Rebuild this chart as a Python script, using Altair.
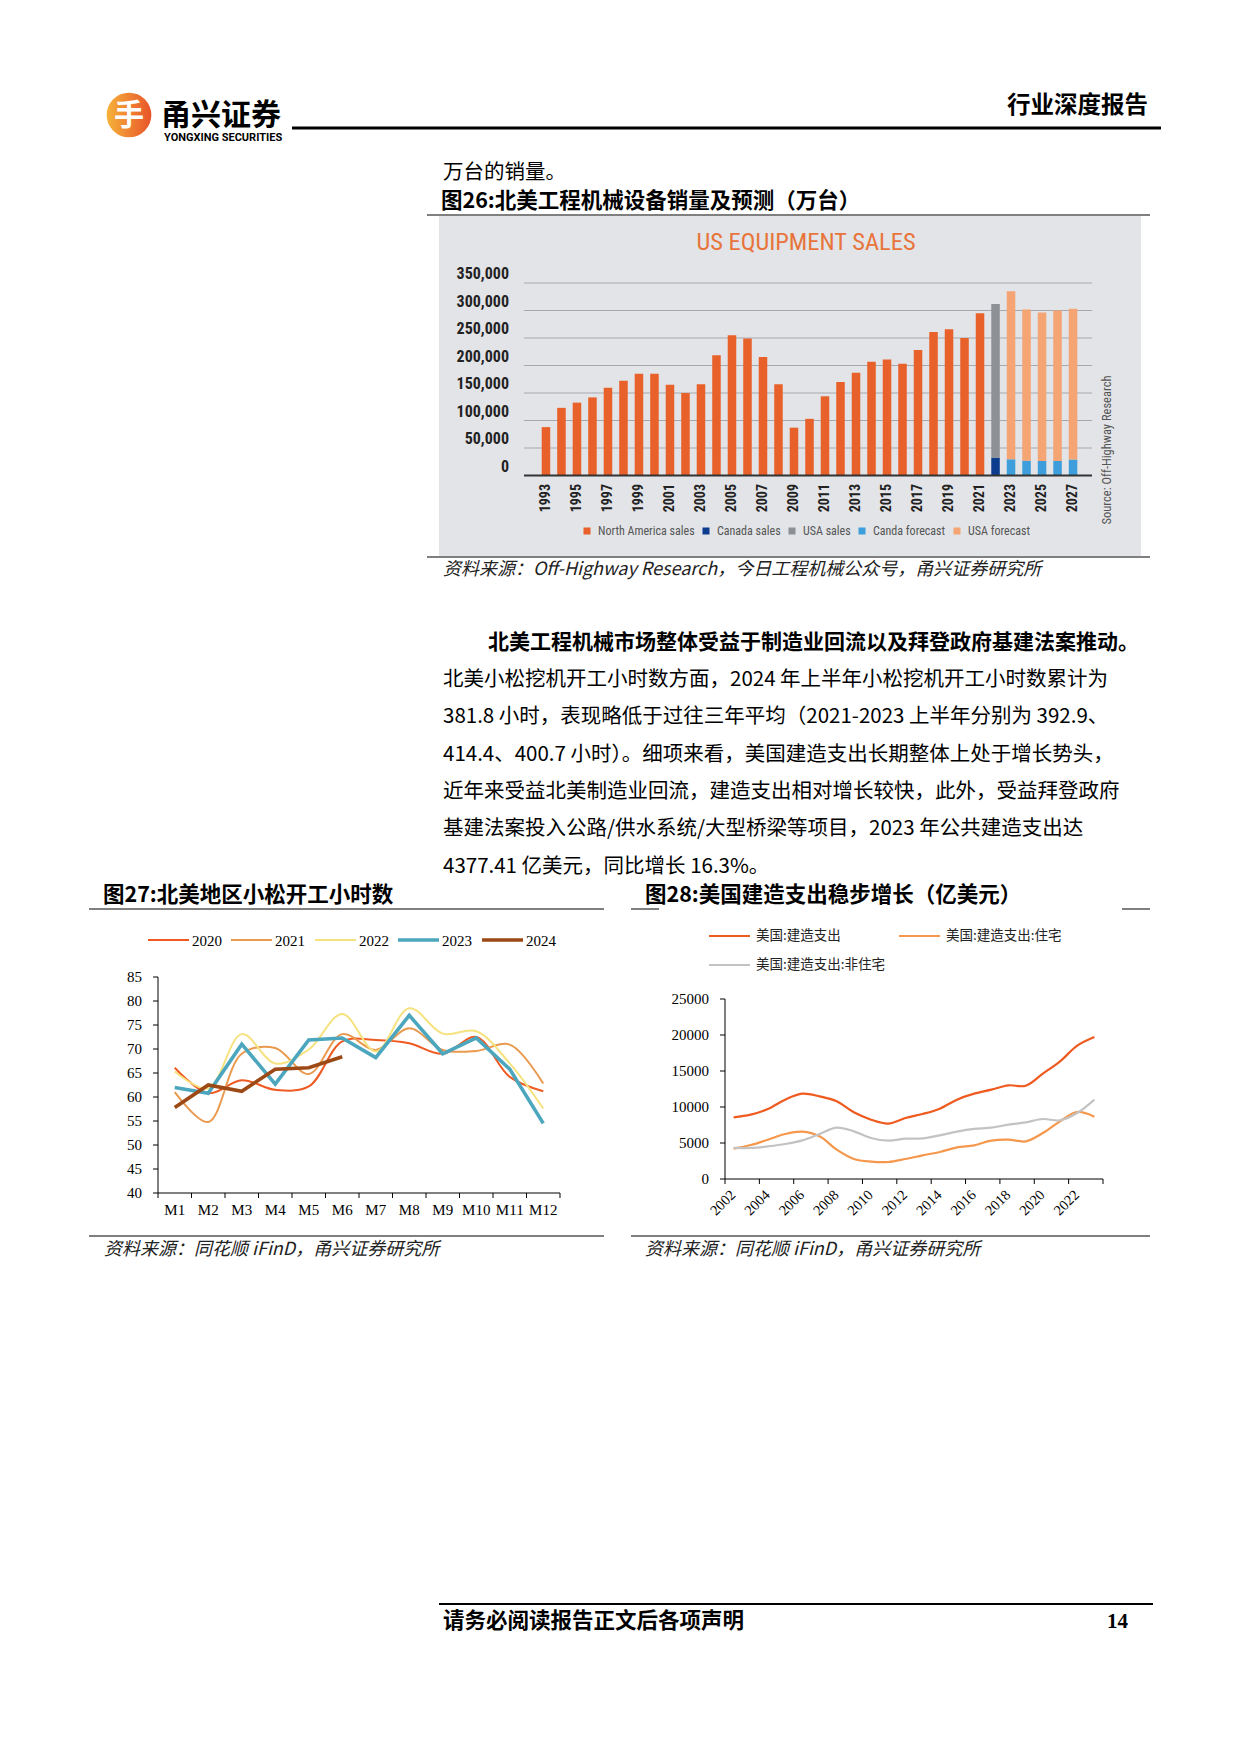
import altair as alt
import pandas as pd

OX, OY = 8, 8
def X(v): return v - OX
def Y(v): return v - OY
W, H = 1224, 1738

CJK = "Noto Sans CJK SC"
SERIF = "Liberation Serif"
NARROW = "Roboto Condensed, Roboto, sans-serif"

# ---------------- Figure 26 data ----------------
years26 = list(range(1993, 2028))
na_years = list(range(1993, 2022))
na_sales = [88000, 123000, 132500, 142000, 159500, 172500, 185000, 185000, 165000, 150000,
            166000, 218500, 255000, 249000, 215500, 166000, 87000, 103000, 144000, 170000,
            187000, 207000, 211000, 203000, 228000, 261000, 266000, 250000, 295000]
actual_years = [2022]
canada_sales = [32500]
usa_sales = [279500]
fc_years = [2023, 2024, 2025, 2026, 2027]
canada_fc = [29500, 27000, 26500, 26500, 29000]
usa_fc = [305500, 275000, 270000, 273500, 274000]
series26 = ["North America sales", "Canada sales", "USA sales", "Canda forecast", "USA forecast"]
colors26 = ["#e9612a", "#0c3c8e", "#8d9095", "#3d9edb", "#f5a474"]
ticks26 = [0, 50000, 100000, 150000, 200000, 250000, 300000, 350000]
labels26 = years26[::2]

# ---------------- Figure 27 data ----------------
months = ["M1", "M2", "M3", "M4", "M5", "M6", "M7", "M8", "M9", "M10", "M11", "M12"]
month_idx = [1, 2, 3, 4, 5, 6, 7, 8, 9, 10, 11, 12]
series27 = ["2020", "2021", "2022", "2023", "2024"]
h2020 = [66.1, 60.8, 63.5, 61.5, 62.2, 71.6, 71.9, 71.2, 69.0, 72.5, 64.2, 61.2]
h2021 = [61.0, 54.8, 69.0, 70.2, 64.8, 73.1, 69.8, 74.3, 69.8, 69.6, 70.9, 62.8]
h2022 = [65.3, 61.8, 73.1, 67.0, 69.9, 77.3, 69.5, 78.5, 73.2, 73.7, 67.0, 57.6]
h2023 = [62.0, 60.8, 71.0, 62.7, 71.9, 72.3, 68.2, 77.0, 69.0, 72.3, 65.8, 54.5]
h2024 = [57.8, 62.5, 61.2, 65.8, 66.1, 68.4]
colors27 = ["#ef5a22", "#ea9a4f", "#f6e27e", "#4ba6be", "#9c4915"]
widths27 = [2, 2, 2, 3.6, 3.6]
smooth27 = [True, True, True, False, False]
ticks27 = [40, 45, 50, 55, 60, 65, 70, 75, 80, 85]

# ---------------- Figure 28 data ----------------
years28 = list(range(2002, 2024))
total28 = [8570, 8940, 9720, 11020, 11850, 11480, 10790, 9260, 8240, 7690, 8470,
           9030, 9770, 11020, 11850, 12410, 13010, 12950, 14630, 16340, 18520, 19720]
res28 = [4210, 4720, 5460, 6250, 6570, 5930, 4070, 2780, 2410, 2360, 2780,
         3290, 3750, 4400, 4680, 5330, 5460, 5230, 6390, 8010, 9310, 8660]
nonres28 = [4310, 4310, 4540, 4860, 5370, 6250, 7130, 6620, 5700, 5330, 5600,
            5650, 6070, 6580, 6950, 7130, 7550, 7870, 8330, 8150, 9170, 11020]
series28 = ["美国:建造支出", "美国:建造支出:住宅", "美国:建造支出:非住宅"]
colors28 = ["#ef5a1f", "#f5984d", "#c3c3c3"]
ticks28 = [0, 5000, 10000, 15000, 20000, 25000]
labels28 = years28[::2]

para_bold = "北美工程机械市场整体受益于制造业回流以及拜登政府基建法案推动。"
para_lines = [
    "北美小松挖机开工小时数方面，2024 年上半年小松挖机开工小时数累计为",
    "381.8 小时，表现略低于过往三年平均（2021-2023 上半年分别为 392.9、",
    "414.4、400.7 小时）。细项来看，美国建造支出长期整体上处于增长势头，",
    "近年来受益北美制造业回流，建造支出相对增长较快，此外，受益拜登政府",
    "基建法案投入公路/供水系统/大型桥梁等项目，2023 年公共建造支出达",
    "4377.41 亿美元，同比增长 16.3%。",
]

layers = []
ONE = pd.DataFrame({"t": [""]})

def txt(s, x, y, size, weight="normal", align="left", font=CJK, color="#000000",
        style="normal", angle=0, baseline="middle"):
    return alt.Chart(pd.DataFrame({"t": [s]})).mark_text(
        align=align, baseline=baseline, font=font, fontSize=size, fontWeight=weight,
        fontStyle=style, color=color, angle=angle
    ).encode(x=alt.value(X(x)), y=alt.value(Y(y)), text=alt.Text("t:N"))

def hline(x1, x2, y, color="#000000", w=1):
    return alt.Chart(ONE).mark_rule(color=color, strokeWidth=w).encode(
        x=alt.value(X(x1)), x2=alt.value(X(x2)), y=alt.value(Y(y)))

def vline(x, y1, y2, color="#000000", w=1):
    return alt.Chart(ONE).mark_rule(color=color, strokeWidth=w).encode(
        x=alt.value(X(x)), y=alt.value(Y(y1)), y2=alt.value(Y(y2)))

# ---------------- header ----------------
grad = alt.LinearGradient(gradient="linear", x1=0, x2=1, y1=0, y2=0,
                          stops=[alt.GradientStop(color="#f6b23a", offset=0),
                                 alt.GradientStop(color="#e8542a", offset=1)])
layers.append(alt.Chart(ONE).mark_point(filled=True, shape="circle", size=2000, fill=grad,
                                        opacity=1, strokeWidth=0)
              .encode(x=alt.value(X(129)), y=alt.value(Y(115))))
layers.append(txt("手", 129, 116, 30, weight="bold", align="center", color="#ffffff"))
layers.append(txt("甬兴证券", 161, 116, 30, weight="bold"))
layers.append(txt("YONGXING SECURITIES", 164, 138, 11, weight="bold", font="Roboto"))
layers.append(hline(292, 1161, 128, w=3))
layers.append(txt("行业深度报告", 1148, 106, 23.5, weight="bold", align="right"))

# ---------------- top text & fig 26 ----------------
layers.append(txt("万台的销量。", 443, 173, 20.5))
layers.append(txt("图26:北美工程机械设备销量及预测（万台）", 441, 202, 21.5, weight="bold"))
layers.append(hline(427, 1150, 215))
layers.append(alt.Chart(ONE).mark_rect(color="#e2e4e7").encode(
    x=alt.value(X(439)), x2=alt.value(X(1141)), y=alt.value(Y(216)), y2=alt.value(Y(556))))
layers.append(hline(427, 1150, 557))

xs26 = alt.Scale(type="band", domain=years26, range=[X(531), X(1088)],
                 paddingInner=0.45, paddingOuter=0.69)
ys26 = alt.Scale(domain=[0, 350000], range=[Y(475.5), Y(283)], nice=False)

layers.append(alt.Chart(pd.DataFrame({"v": ticks26[1:]})).mark_rule(color="#a5a8ad", strokeWidth=1)
              .encode(y=alt.Y("v:Q", scale=ys26, axis=None), x=alt.value(X(524)), x2=alt.value(X(1092))))

rows = []
for yy, v in zip(na_years, na_sales):
    rows.append({"year": yy, "series": series26[0], "value": v, "ord": 0})
for yy, v in zip(actual_years, canada_sales):
    rows.append({"year": yy, "series": series26[1], "value": v, "ord": 0})
for yy, v in zip(actual_years, usa_sales):
    rows.append({"year": yy, "series": series26[2], "value": v, "ord": 1})
for yy, v in zip(fc_years, canada_fc):
    rows.append({"year": yy, "series": series26[3], "value": v, "ord": 0})
for yy, v in zip(fc_years, usa_fc):
    rows.append({"year": yy, "series": series26[4], "value": v, "ord": 1})
df26 = pd.DataFrame(rows)

layers.append(alt.Chart(df26).mark_bar().encode(
    x=alt.X("year:O", scale=xs26, axis=None),
    y=alt.Y("value:Q", scale=ys26, axis=None, stack="zero"),
    color=alt.Color("series:N", scale=alt.Scale(domain=series26, range=colors26),
                    legend=alt.Legend(orient="none", legendX=X(581), legendY=Y(525),
                                      direction="horizontal", title=None, symbolType="square",
                                      symbolSize=49, symbolStrokeWidth=0, labelFont=NARROW,
                                      labelFontSize=12, labelColor="#555555", labelOffset=5,
                                      columnPadding=5, padding=0)),
    order=alt.Order("ord:Q"),
))
layers.append(alt.Chart(pd.DataFrame({"v": ticks26[:1]})).mark_rule(color="#333333", strokeWidth=2)
              .encode(y=alt.Y("v:Q", scale=ys26, axis=None), x=alt.value(X(524)), x2=alt.value(X(1092))))
layers.append(alt.Chart(pd.DataFrame({"v": ticks26})).mark_text(
    align="right", baseline="middle", font=NARROW, fontSize=16, fontWeight="bold", color="#222222",
    dy=-9)
    .encode(y=alt.Y("v:Q", scale=ys26, axis=None), x=alt.value(X(509)),
            text=alt.Text("v:Q", format=",")))
layers.append(alt.Chart(pd.DataFrame({"year": labels26})).mark_text(
    angle=270, align="right", baseline="middle", font=NARROW, fontSize=14, fontWeight="bold",
    color="#222222")
    .encode(x=alt.X("year:O", scale=xs26, axis=None), y=alt.value(Y(484)), text=alt.Text("year:O")))
layers.append(txt("US EQUIPMENT SALES", 806, 243, 24.5, align="center", font=NARROW, color="#e8743b"))
layers.append(txt("Source: Off-Highway Research", 1107, 450, 12.5, align="center", font=NARROW,
                  color="#555555", angle=270))

layers.append(txt("资料来源：Off-Highway Research，今日工程机械公众号，甬兴证券研究所", 443, 570, 18,
                  style="italic", color="#222222"))

# ---------------- paragraph ----------------
layers.append(txt(para_bold, 488, 643, 21, weight="bold"))
for i, line in enumerate(para_lines):
    layers.append(txt(line, 443, 680 + i * 37.3, 20.5))

# ---------------- figure titles ----------------
layers.append(txt("图27:北美地区小松开工小时数", 103, 896, 21.5, weight="bold"))
layers.append(hline(89, 604, 909))
layers.append(txt("图28:美国建造支出稳步增长（亿美元）", 645, 896, 21.5, weight="bold"))
layers.append(hline(631, 659, 909))
layers.append(hline(1122, 1150, 909))

# ---------------- figure 27 ----------------
xs27 = alt.Scale(domain=[0.5, 12.5], range=[X(158), X(560)], nice=False, zero=False)
ys27 = alt.Scale(domain=[40, 85], range=[Y(1193), Y(977)], nice=False, zero=False)
vals27 = [h2020, h2021, h2022, h2023, h2024]
for name, vals, c, w, sm in zip(series27, vals27, colors27, widths27, smooth27):
    d = pd.DataFrame({"m": month_idx[:len(vals)], "v": vals})
    layers.append(alt.Chart(d).mark_line(color=c, strokeWidth=w,
                                         interpolate="catmull-rom" if sm else "linear")
                  .encode(x=alt.X("m:Q", scale=xs27, axis=None), y=alt.Y("v:Q", scale=ys27, axis=None)))
layers.append(vline(158, 977, 1193))
layers.append(hline(158, 560, 1193))
layers.append(alt.Chart(pd.DataFrame({"v": ticks27})).mark_rule(color="#000000", strokeWidth=1)
              .encode(y=alt.Y("v:Q", scale=ys27, axis=None), x=alt.value(X(153)), x2=alt.value(X(158))))
layers.append(alt.Chart(pd.DataFrame({"v": ticks27})).mark_text(
    align="right", baseline="middle", font=SERIF, fontSize=15, color="#000000")
    .encode(y=alt.Y("v:Q", scale=ys27, axis=None), x=alt.value(X(142)), text=alt.Text("v:Q")))
bounds27 = [m - 0.5 for m in month_idx] + [month_idx[-1] + 0.5]
layers.append(alt.Chart(pd.DataFrame({"b": bounds27})).mark_rule(color="#000000", strokeWidth=1)
              .encode(x=alt.X("b:Q", scale=xs27, axis=None), y=alt.value(Y(1193)), y2=alt.value(Y(1198))))
layers.append(alt.Chart(pd.DataFrame({"m": month_idx, "lab": months})).mark_text(
    align="center", baseline="middle", font=SERIF, fontSize=15, color="#000000")
    .encode(x=alt.X("m:Q", scale=xs27, axis=None), y=alt.value(Y(1210)), text=alt.Text("lab:N")))
leg27_x = [148, 231, 315, 398, 482]
for name, c, w, lx in zip(series27, colors27, widths27, leg27_x):
    layers.append(hline(lx, lx + 41, 940, color=c, w=w))
    layers.append(txt(name, lx + 44, 941, 15, font=SERIF))
layers.append(hline(89, 604, 1236))
layers.append(txt("资料来源：同花顺 iFinD，甬兴证券研究所", 104, 1250, 18, style="italic", color="#222222"))

# ---------------- figure 28 ----------------
xs28 = alt.Scale(domain=[years28[0] - 0.5, years28[-1] + 0.5], range=[X(725), X(1103)], nice=False, zero=False)
ys28 = alt.Scale(domain=[0, 25000], range=[Y(1179), Y(999)], nice=False)
for name, vals, c in zip(series28, [total28, res28, nonres28], colors28):
    d = pd.DataFrame({"yr": years28, "v": vals})
    layers.append(alt.Chart(d).mark_line(color=c, strokeWidth=2.2, interpolate="catmull-rom")
                  .encode(x=alt.X("yr:Q", scale=xs28, axis=None), y=alt.Y("v:Q", scale=ys28, axis=None)))
layers.append(vline(725, 999, 1179))
layers.append(hline(725, 1103, 1179))
layers.append(alt.Chart(pd.DataFrame({"v": ticks28})).mark_rule(color="#000000", strokeWidth=1)
              .encode(y=alt.Y("v:Q", scale=ys28, axis=None), x=alt.value(X(720)), x2=alt.value(X(725))))
layers.append(alt.Chart(pd.DataFrame({"v": ticks28})).mark_text(
    align="right", baseline="middle", font=SERIF, fontSize=15, color="#000000")
    .encode(y=alt.Y("v:Q", scale=ys28, axis=None), x=alt.value(X(709)), text=alt.Text("v:Q")))
bounds28 = [yy - 0.5 for yy in years28[::2]] + [years28[-1] + 0.5]
layers.append(alt.Chart(pd.DataFrame({"b": bounds28})).mark_rule(color="#000000", strokeWidth=1)
              .encode(x=alt.X("b:Q", scale=xs28, axis=None), y=alt.value(Y(1179)), y2=alt.value(Y(1184))))
layers.append(alt.Chart(pd.DataFrame({"yr": labels28})).mark_text(
    align="right", baseline="middle", font=SERIF, fontSize=14.5, color="#000000", angle=315)
    .encode(x=alt.X("yr:Q", scale=xs28, axis=None), y=alt.value(Y(1193)), text=alt.Text("yr:N")))
leg28_pos = [(709, 936), (899, 936), (709, 965)]
for name, c, (lx, ly) in zip(series28, colors28, leg28_pos):
    layers.append(hline(lx, lx + 41, ly, color=c, w=2.2))
    layers.append(txt(name, lx + 47, ly, 13.5, color="#222222"))
layers.append(hline(631, 1150, 1236))
layers.append(txt("资料来源：同花顺 iFinD，甬兴证券研究所", 645, 1250, 18, style="italic", color="#222222"))

# ---------------- footer ----------------
layers.append(hline(439, 1153, 1604, w=2))
layers.append(txt("请务必阅读报告正文后各项声明", 443, 1622, 21.5, weight="bold"))
layers.append(txt("14", 1128, 1622, 21, weight="bold", align="right", font=SERIF))

chart = alt.layer(*layers).resolve_scale(
    x="independent", y="independent", color="independent"
).properties(
    width=W, height=H, padding=0, autosize=alt.AutoSizeParams(type="none")
).configure_view(stroke=None)

chart.save("out.html", embed_options={"renderer": "svg", "actions": False})
